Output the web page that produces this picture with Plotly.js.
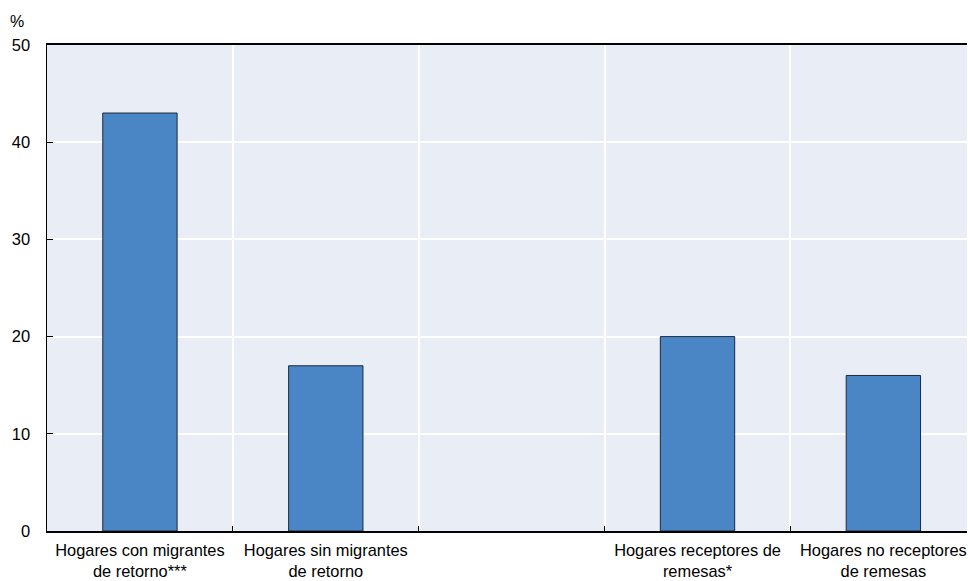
<!DOCTYPE html>
<html>
<head>
<meta charset="utf-8">
<script src="https://cdn.plot.ly/plotly-3.0.1.min.js"></script>
<style>html,body{margin:0;padding:0;overflow:hidden;background:#fff}</style>
</head>
<body>
<div id="chart" style="width:968px;height:581px"></div>
<script>
var categories = ["Hogares con migrantes<br>de retorno***", "Hogares sin migrantes<br>de retorno", " ", "Hogares receptores de<br>remesas*", "Hogares no receptores<br>de remesas"];
var values = [43, 17, null, 20, 16];
var yTicks = [0, 10, 20, 30, 40, 50];

var FONT = "'Liberation Sans', Arial, sans-serif";

var trace = {
  type: 'bar',
  x: categories,
  y: values,
  width: 0.4,
  marker: {color: '#4a86c6', line: {color: '#1c2a3a', width: 1}},
  hoverinfo: 'none'
};

var layout = {
  width: 968, height: 581,
  margin: {l: 47, r: 1, t: 45, b: 50},
  paper_bgcolor: '#ffffff',
  plot_bgcolor: '#e9edf6',
  showlegend: false,
  font: {family: FONT, size: 16, color: '#000'},
  bargap: 0.6,
  xaxis: {
    type: 'category',
    range: [-0.5, 4.45],
    tickson: 'boundaries',
    ticks: 'inside',
    ticklen: 5,
    tickwidth: 1,
    tickcolor: '#000',
    showgrid: true,
    gridcolor: '#ffffff',
    gridwidth: 2,
    showline: true,
    linecolor: '#000',
    linewidth: 2,
    mirror: true,
    ticklabelstandoff: 3,
    tickfont: {family: FONT, size: 16.4, color: '#000'},
    fixedrange: true
  },
  yaxis: {
    range: [0, 50],
    tickvals: yTicks,
    ticktext: yTicks.map(String),
    ticks: 'inside',
    ticklen: 6,
    tickwidth: 1,
    tickcolor: '#000',
    showgrid: true,
    gridcolor: '#ffffff',
    gridwidth: 2,
    zeroline: false,
    showline: true,
    linecolor: '#000',
    linewidth: 1.5,
    ticklabelstandoff: 12,
    tickfont: {family: FONT, size: 16.5, color: '#000'},
    fixedrange: true
  },
  annotations: [{
    text: '%', xref: 'paper', yref: 'paper', x: -0.033, y: 1.0, yshift: 24,
    xanchor: 'center', yanchor: 'middle', showarrow: false,
    font: {family: FONT, size: 16, color: '#000'}
  }]
};

Plotly.newPlot('chart', [trace], layout, {displayModeBar: false, staticPlot: true});
</script>
</body>
</html>
